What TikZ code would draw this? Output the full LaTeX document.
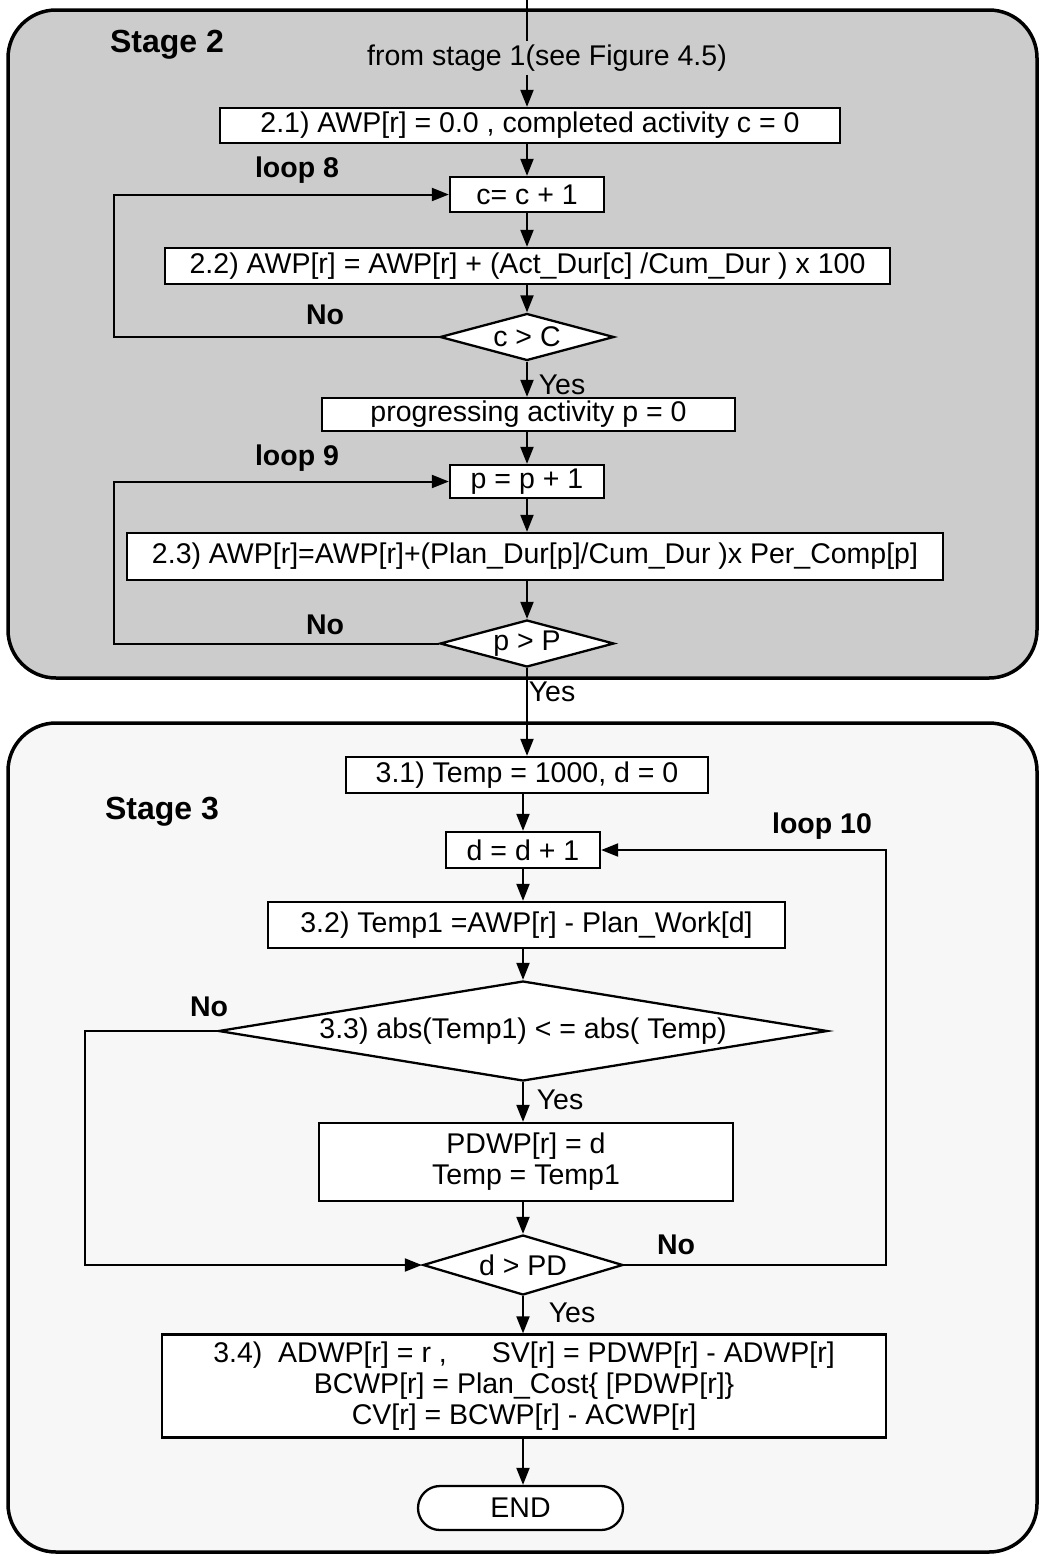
\documentclass[tikz,border=0pt]{standalone}
\usepackage{fontspec}
\setmainfont{Liberation Sans}
\usetikzlibrary{arrows.meta,shapes.geometric}
\begin{document}
\begin{tikzpicture}[x=1pt,y=-1pt,
 every node/.style={font=\fontsize{28.5}{31}\selectfont},
 box/.style={draw, line width=2.3pt, fill=white, inner sep=0pt, align=center},
 dia/.style={draw, diamond, line width=2.3pt, fill=white, inner sep=0pt},
 lbl/.style={font=\bfseries\fontsize{28.5}{31}\selectfont},
 stg/.style={font=\bfseries\fontsize{32}{36}\selectfont},
 arr/.style={line width=2pt, -{Triangle[length=17pt,width=13pt]}},
 ln/.style={line width=2pt},
 frame/.style={line width=3.5pt, rounded corners=48pt}]
\useasboundingbox (0,0) rectangle (1041,1556);
\draw[frame, fill=black!20] (8,10) rectangle (1037,678);
\draw[frame, fill=black!3] (8,723) rectangle (1037,1552);

% stage 2 nodes
\node[box, minimum width=620pt, minimum height=35pt] (b21) at (530,125.5) {2.1) AWP[r] = 0.0 , completed activity c = 0};
\node[box, minimum width=154pt, minimum height=35pt] (cc) at (527,194.5) {c= c + 1};
\node[box, minimum width=725pt, minimum height=36pt] (b22) at (527.5,266) {2.2) AWP[r] = AWP[r] + (Act\_Dur[c] /Cum\_Dur ) x 100};
\node[dia, minimum width=174pt, minimum height=47pt, aspect=3.7] (cC) at (527,337) {c > C};
\node[box, minimum width=413pt, minimum height=33pt] (prog) at (528.5,414.5) {progressing activity p = 0};
\node[box, minimum width=154pt, minimum height=33pt] (pp) at (527,481.5) {p = p + 1};
\node[box, minimum width=816pt, minimum height=47pt] (b23) at (535,556.5) {2.3) AWP[r]=AWP[r]+(Plan\_Dur[p]/Cum\_Dur )x Per\_Comp[p]};
\node[dia, minimum width=174pt, minimum height=47pt, aspect=3.7] (pP) at (527,643.5) {p > P};

% stage 3 nodes
\node[box, minimum width=362pt, minimum height=36pt] (b31) at (527,775) {3.1) Temp = 1000, d = 0};
\node[box, minimum width=154pt, minimum height=36pt] (dd) at (523,850) {d = d + 1};
\node[box, minimum width=517pt, minimum height=46pt] (b32) at (526.5,925) {3.2) Temp1 =AWP[r] - Plan\_Work[d]};
\node[dia, minimum width=609pt, minimum height=100pt, aspect=6] (d33) at (523,1031) {3.3) abs(Temp1) < = abs( Temp)};
\node[box, minimum width=414pt, minimum height=78pt] (b33) at (526,1162) {PDWP[r] = d\\Temp = Temp1};
\node[dia, minimum width=200pt, minimum height=60pt, aspect=3.33] (dPD) at (523,1265) {d > PD};
\node[box, minimum width=724pt, minimum height=103pt] (b34) at (524,1386) {3.4)\ \ ADWP[r] = r ,\hspace{45pt}SV[r] = PDWP[r] - ADWP[r]\\BCWP[r] = Plan\_Cost\{ [PDWP[r]\}\\CV[r] = BCWP[r] - ACWP[r]};
\node[box, rounded corners=22pt, minimum width=205pt, minimum height=44pt] (end) at (520.5,1508) {END};

% labels
\node[stg] (s2) at (167,45) {Stage 2};
\node[stg] (s3) at (162,812) {Stage 3};
\node[lbl] (l8) at (297,170) {loop 8};
\node[lbl] (l9) at (297,458) {loop 9};
\node[lbl] (l10) at (822,826) {loop 10};
\node[lbl] (n1) at (325,315) {No};
\node[lbl] (n2) at (325,625) {No};
\node[lbl] (n3) at (209,1007) {No};
\node[lbl] (n4) at (676,1245) {No};
\node (y1) at (562,385) {Yes};
\node (y2) at (552,692) {Yes};
\node (y3) at (560,1100) {Yes};
\node (y4) at (572,1313) {Yes};

% connectors stage 2
\coordinate (top) at (527,0);
\node (from) at (547,58) {from stage 1(see Figure 4.5)};
\draw[ln] (top) -- (top |- from.north);
\draw[arr] (top |- from.south) -- (top |- b21.north);
\draw[arr] (cc.north |- b21.south) -- (cc.north);
\draw[arr] (cc.south) -- (cc.south |- b22.north);
\draw[arr] (cC.north |- b22.south) -- (cC.north);
\draw[arr] (cC.west) -- ++(-325,0) |- (cc.west);
\draw[arr] (cC.south) -- (cC.south |- prog.north);
\draw[arr] (pp.north |- prog.south) -- (pp.north);
\draw[arr] (pp.south) -- (pp.south |- b23.north);
\draw[arr] (pP.north |- b23.south) -- (pP.north);
\draw[arr] (pP.west) -- ++(-325,0) |- (pp.west);
\draw[arr] (pP.south) -- (pP.south |- b31.north);

% connectors stage 3
\draw[arr] (dd.north |- b31.south) -- (dd.north);
\draw[arr] (dd.south) -- (dd.south |- b32.north);
\draw[arr] (d33.north |- b32.south) -- (d33.north);
\draw[arr] (d33.south) -- (d33.south |- b33.north);
\draw[arr] (dPD.north |- b33.south) -- (dPD.north);
\draw[arr] (d33.west) -- ++(-132,0) |- (dPD.west);
\draw[arr] (dPD.east) -- ++(262,0) |- (dd.east);
\draw[arr] (dPD.south) -- (dPD.south |- b34.north);
\draw[arr] (dPD.south |- b34.south) -- (dPD.south |- end.north);
\end{tikzpicture}
\end{document}
